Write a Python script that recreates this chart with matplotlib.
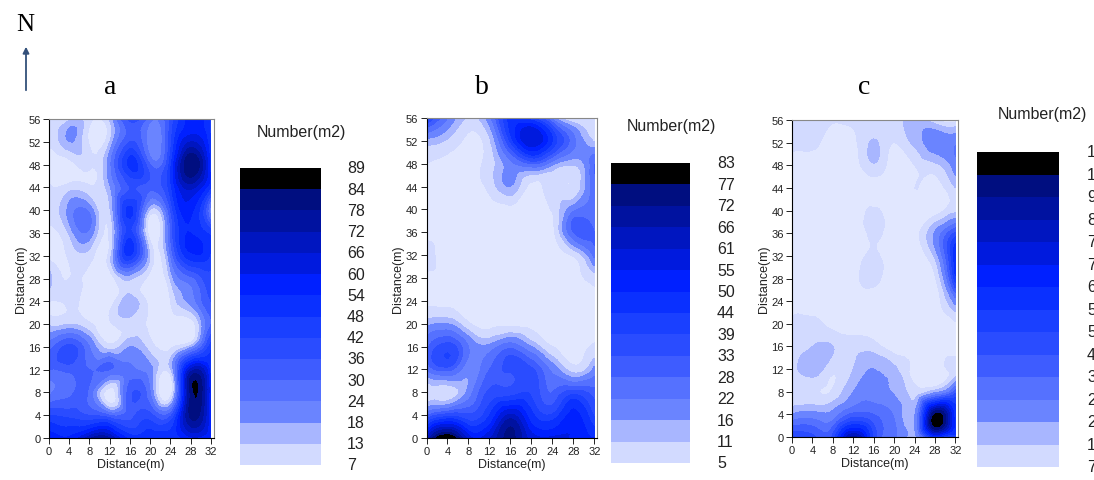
import matplotlib
matplotlib.use('Agg')
import matplotlib.pyplot as plt
import matplotlib.tri as mtri
from matplotlib.patches import Rectangle
import numpy as np

W, H = 1094, 481

x_grid = [0, 4, 8, 12, 16, 20, 24, 28, 32]
y_grid = [56, 52, 48, 44, 40, 36, 32, 28, 24, 20, 16, 12, 8, 4, 0]
x_ticks = [0, 4, 8, 12, 16, 20, 24, 28, 32]
y_ticks = [0, 4, 8, 12, 16, 20, 24, 28, 32, 36, 40, 44, 48, 52, 56]

# rows run from y=56 down to y=0
values_a = [
    [9, 12, 9, 14, 38, 26, 38, 56, 46],
    [8, 18, 6, 13, 36, 20, 40, 66, 48],
    [4, 4, 8, 22, 50, 30, 46, 84, 50],
    [8, 10, 8, 17, 36, 32, 46, 68, 48],
    [8, 20, 22, 12, 50, 12, 36, 56, 20],
    [6, 14, 22, 8, 44, 3, 30, 54, 46],
    [5, 8, 10, 10, 48, 12, 24, 52, 46],
    [16, 7, 4, 3, 14, 3, 14, 28, 40],
    [7, 8, 3, 3, 16, 3, 7, 20, 36],
    [12, 13, 8, 6, 10, 5, 4, 3, 30],
    [28, 38, 24, 10, 18, 10, 6, 16, 46],
    [30, 32, 30, 30, 26, 20, 12, 68, 50],
    [22, 28, 28, 3, 34, 24, 3, 80, 54],
    [42, 40, 36, 30, 34, 38, 34, 80, 54],
    [58, 55, 70, 72, 52, 52, 52, 58, 55],
]
values_b = [
    [40, 22, 10, 20, 46, 40, 20, 5, 8],
    [14, 10, 3, 10, 40, 60, 44, 24, 10],
    [5, 3, 2, 8, 20, 28, 18, 12, 28],
    [3, 3, 3, 7, 16, 3, 8, 6, 26],
    [3, 3, 3, 3, 3, 3, 6, 20, 24],
    [3, 3, 3, 3, 3, 3, 3, 28, 28],
    [8, 3, 3, 3, 3, 3, 3, 6, 24],
    [3, 3, 3, 3, 3, 3, 3, 3, 8],
    [3, 3, 3, 3, 3, 3, 3, 3, 3],
    [14, 16, 6, 3, 3, 3, 3, 3, 3],
    [26, 36, 22, 18, 26, 16, 5, 3, 6],
    [22, 30, 18, 28, 34, 34, 20, 8, 18],
    [5, 7, 18, 34, 36, 38, 28, 36, 30],
    [26, 36, 34, 44, 62, 46, 40, 52, 38],
    [60, 84, 58, 60, 74, 58, 56, 54, 50],
]
values_c = [
    [10, 9, 8, 9, 8, 9, 16, 9, 4],
    [10, 9, 3, 5, 15, 7, 16, 26, 28],
    [3, 3, 3, 3, 13, 3, 7, 12, 26],
    [3, 3, 3, 3, 3, 3, 7, 3, 14],
    [3, 3, 3, 3, 8, 3, 3, 3, 12],
    [3, 3, 3, 3, 8, 3, 3, 22, 45],
    [3, 3, 3, 4, 8, 3, 3, 16, 62],
    [3, 3, 3, 5, 9, 3, 3, 6, 55],
    [3, 3, 3, 3, 3, 3, 3, 3, 25],
    [8, 9, 4, 3, 3, 3, 3, 3, 6],
    [8, 14, 14, 11, 10, 3, 3, 3, 3],
    [9, 18, 9, 14, 21, 16, 4, 3, 10],
    [8, 8, 8, 21, 24, 20, 10, 18, 40],
    [21, 24, 24, 38, 36, 28, 20, 102, 60],
    [50, 45, 45, 88, 48, 30, 18, 58, 52],
]

levels_a = [7, 13, 18, 24, 30, 36, 42, 48, 54, 60, 66, 72, 78, 84, 89]
levels_b = [5, 11, 16, 22, 28, 33, 39, 44, 50, 55, 61, 66, 72, 77, 83]
levels_c = [7, 14, 21, 29, 36, 43, 50, 57, 65, 72, 79, 86, 93, 101, 108]

labels_a = ['89', '84', '78', '72', '66', '60', '54', '48', '42', '36', '30', '24', '18', '13', '7']
labels_b = ['83', '77', '72', '66', '61', '55', '50', '44', '39', '33', '28', '22', '16', '11', '5']
# cut off by the edge of the picture
labels_c = ['1', '1', '9', '8', '7', '7', '6', '5', '5', '4', '3', '2', '2', '1', '7']

# below first level, then one per band, then above last level
band_colors = ['#e1e7ff', '#d2daff', '#a8b6ff', '#6a84ff', '#5571ff', '#3e5cff', '#2a4cff',
               '#1a40ff', '#0a30ff', '#0020ff', '#001ade', '#0016c0', '#0012a0', '#000e80',
               '#000000', '#000000']


def px(x0, y0, x1, y1):
    # pixel box, y from the top -> figure fraction rect
    return [x0 / W, 1 - y1 / H, (x1 - x0) / W, (y1 - y0) / H]


def draw_map(fig, box, values, levels, ylabel='Distance(m)'):
    ax = fig.add_axes(px(*box))
    xx, yy = np.meshgrid(x_grid, y_grid)
    tri = mtri.Triangulation(xx.ravel(), yy.ravel())
    z = np.array(values, dtype=float).ravel()
    # smooth the grid so the bands are not angular
    refiner = mtri.UniformTriRefiner(tri)
    tri2, z2 = refiner.refine_field(z, subdiv=3)
    ax.tricontourf(tri2, z2, levels=[-1000] + levels + [1000], colors=band_colors[:len(levels) + 1])
    ax.set_xlim(0, 32.5)
    ax.set_ylim(0, 56)
    ax.set_xticks(x_ticks)
    ax.set_yticks(y_ticks)
    ax.tick_params(labelsize=8, length=4, width=0.7, pad=2, colors='#222222')
    ax.set_xlabel('Distance(m)', fontsize=9, labelpad=1, color='#222222')
    ax.set_ylabel(ylabel, fontsize=9, labelpad=1, color='#222222')
    for s in ['top', 'right']:
        ax.spines[s].set_color('#888888')
    for s in ax.spines.values():
        s.set_linewidth(0.8)
    return ax


def draw_bar(fig, box, labels, label_x, title_xy):
    ax = fig.add_axes(px(*box))
    ax.set_xlim(0, 1)
    ax.set_ylim(0, len(labels) - 1)
    ax.axis('off')
    for i in range(len(labels) - 1):
        ax.add_patch(Rectangle((0, i), 1, 1, color=band_colors[i + 1], lw=0))
    for i, lab in enumerate(labels):
        fig.text(label_x / W, 1 - (box[1] + (box[3] - box[1]) * i / (len(labels) - 1)) / H, lab,
                 fontsize=11.5, va='center', ha='left', color='#222222')
    fig.text(title_xy[0] / W, 1 - title_xy[1] / H, 'Number(m2)', fontsize=11.5, va='center', ha='left',
             color='#222222')


plt.rcParams['font.family'] = ['Liberation Sans', 'DejaVu Sans']

fig = plt.figure(figsize=(W / 100, H / 100), dpi=100)

draw_map(fig, (49, 120, 213.5, 439), values_a, levels_a)
draw_map(fig, (426.5, 119, 597, 439), values_b, levels_b)
draw_map(fig, (792, 121, 958, 438), values_c, levels_c)

draw_bar(fig, (240, 169, 321, 466), labels_a, 347, (257, 132))
draw_bar(fig, (611, 164, 690, 464), labels_b, 717, (627, 126))
draw_bar(fig, (977, 153, 1059, 468), labels_c, 1087, (998, 114))

for t, x in [('a', 110), ('b', 482), ('c', 864)]:
    fig.text(x / W, 1 - 88 / H, t, family='Liberation Serif', fontsize=20, ha='center', va='center')
fig.text(25 / W, 1 - 25 / H, 'N', family='Liberation Serif', fontsize=18, ha='center', va='center')

arrow_ax = fig.add_axes([0, 0, 1, 1])
arrow_ax.set_xlim(0, W)
arrow_ax.set_ylim(H, 0)
arrow_ax.axis('off')
arrow_ax.annotate('', xy=(26, 45), xytext=(26, 94),
                  arrowprops=dict(arrowstyle='-|>', color='#33507a', lw=1.3, mutation_scale=9))

fig.savefig('out.png', dpi=100)
